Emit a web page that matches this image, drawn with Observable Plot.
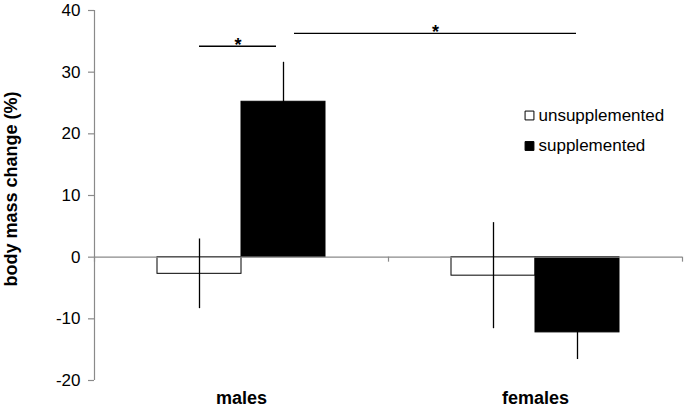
<!DOCTYPE html>
<html><head><meta charset="utf-8">
<script src="https://cdn.jsdelivr.net/npm/d3@7"></script>
<script src="https://cdn.jsdelivr.net/npm/@observablehq/plot@0.6"></script>
<style>body{margin:0;background:#fff}</style>
</head><body><div id="chart"></div>
<script>
// ---- data ----
const groups = ["males", "females"];
const treatments = ["unsupplemented", "supplemented"];
const unsupMeans = [-2.7, -3.0];
const unsupErrors = [5.65, 8.6];
const supMeans = [25.2, -12.2];
const supErrors = [6.4, 4.4];
const yTickValues = [-20, -10, 0, 10, 20, 30, 40];
const sigLevels = [34.2, 36.3];
const sigLabels = ["*", "*"];
const yLabel = "body mass change (%)";

// ---- layout ----
const W = 685, H = 412, mL = 94, mR = 3, mT = 10, mB = 32;
const yMin = -20, yMax = 40;
const pxX = (W - mL - mR) / groups.length;     // px per category unit
const pxY = (H - mT - mB) / (yMax - yMin);     // px per value unit
const barW = 2 / 7;
const grey = "#8a8a8a";
const font = "'Liberation Sans', Arial, sans-serif";

const series = [[unsupMeans, unsupErrors], [supMeans, supErrors]];
const bars = [];
groups.forEach((g, i) => {
  series.forEach(([m, e], j) => {
    const x1 = i + 0.5 - barW + j * barW;
    bars.push({group: g, treatment: treatments[j], x1, x2: x1 + barW, xc: x1 + barW / 2,
               mean: m[i], lo: m[i] - e[i], hi: m[i] + e[i]});
  });
});

// significance brackets: male unsup vs male sup, male sup vs female sup
const brackets = [
  {x1: bars[0].xc, x2: bars[1].xc - 7 / pxX, y: sigLevels[0], label: sigLabels[0]},
  {x1: bars[1].xc + 11 / pxX, x2: bars[3].xc - 1 / pxX, y: sigLevels[1], label: sigLabels[1]}
];

// legend positioned from pixel layout via scale units
const legend = treatments.map((t, k) => ({
  label: t,
  x: (529 - mL) / pxX,
  y: yMax - (115 + k * 30.5 - mT) / pxY,
  fill: k === 0 ? "white" : "black"
}));

const chart = Plot.plot({
  width: W, height: H,
  marginLeft: mL, marginRight: mR, marginTop: mT, marginBottom: mB,
  style: {fontFamily: font, fontSize: "17px", color: "black", background: "white"},
  x: {domain: [0, groups.length], axis: null},
  y: {domain: [yMin, yMax], ticks: yTickValues.length - 1, tickFormat: d => String(d),
      tickSize: 0, tickPadding: 14, label: null},
  marks: [
    Plot.rect(bars, {x1: "x1", x2: "x2", y1: 0, y2: "mean",
      fill: d => d.treatment === "supplemented" ? "black" : "white", stroke: "black", strokeWidth: 1}),
    Plot.ruleY([0], {stroke: grey, strokeWidth: 1.2}),
    Plot.ruleX(bars, {x: "xc", y1: "lo", y2: "hi", stroke: "black", strokeWidth: 1.3}),
    Plot.ruleX([0], {stroke: grey, strokeWidth: 1.2}),
    Plot.ruleY(yTickValues, {x1: 0, x2: -6 / pxX, stroke: grey, strokeWidth: 1.2}),
    Plot.ruleX(d3.range(groups.length + 1), {y1: 0, y2: -5 / pxY, stroke: grey, strokeWidth: 1.2}),
    Plot.ruleY(brackets, {x1: "x1", x2: "x2", y: "y", stroke: "black", strokeWidth: 1.3}),
    Plot.text(brackets, {x: d => (d.x1 + d.x2) / 2, y: "y", text: "label", dy: -1.5, fontSize: 18,
      fontWeight: "bold", fill: "black"}),
    Plot.text(groups, {x: (d, i) => i + 0.5, frameAnchor: "bottom", dy: 23, text: d => d,
      fontSize: 18, fontWeight: "bold", fill: "black"}),
    Plot.text([yLabel], {frameAnchor: "left", textAnchor: "middle", dx: -(mL - 11), dy: -6.5, rotate: -90,
      text: d => d, fontSize: 18, fontWeight: "bold", fill: "black"}),
    Plot.dot(legend, {x: "x", y: "y", symbol: "square", r: 5, fill: "fill", stroke: "black", strokeWidth: 1}),
    Plot.text(legend, {x: "x", y: "y", text: "label", dx: 9, textAnchor: "start", fontSize: 17, fill: "black"})
  ]
});
document.getElementById("chart").appendChild(chart);
</script>
</body></html>
